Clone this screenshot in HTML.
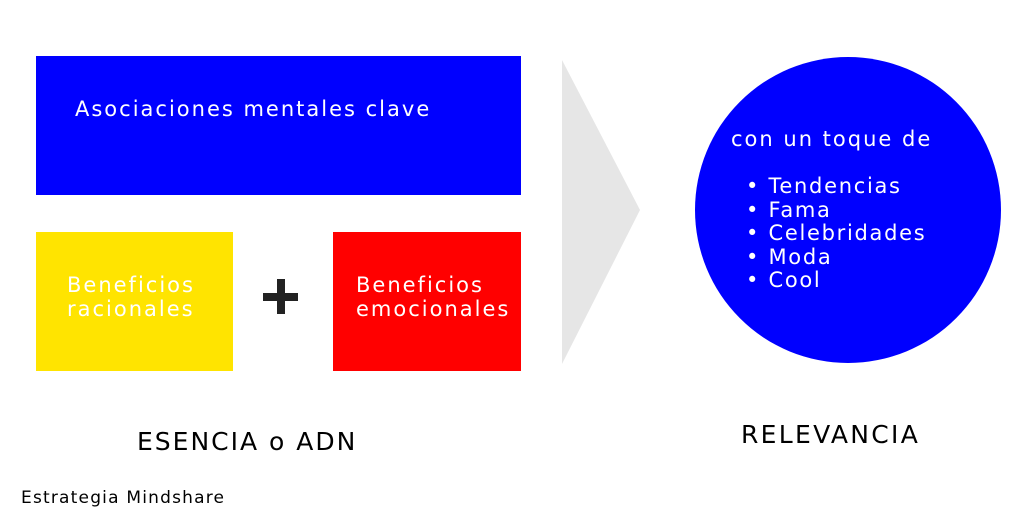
<!DOCTYPE html>
<html><head><meta charset="utf-8"><style>
body{margin:0;width:1024px;height:528px;background:#fff;position:relative;overflow:hidden;font-family:"DejaVu Sans","Liberation Sans",sans-serif;}
.a{position:absolute;white-space:nowrap}
.w{color:#fff;font-size:21px;line-height:24px;letter-spacing:2px}
</style></head><body>
<div class="a" style="left:36px;top:56px;width:485px;height:139px;background:#0000ff"></div>
<div class="a w" style="left:75px;top:97px">Asociaciones mentales clave</div>
<div class="a" style="left:36px;top:232px;width:197px;height:139px;background:#ffe400"></div>
<div class="a w" style="left:67px;top:273px">Beneficios<br>racionales</div>
<div class="a" style="left:333px;top:232px;width:188px;height:139px;background:#ff0000"></div>
<div class="a w" style="left:356px;top:273px">Beneficios<br>emocionales</div>
<div class="a" style="left:263px;top:293px;width:35px;height:8px;background:#222"></div>
<div class="a" style="left:277px;top:279px;width:8px;height:35px;background:#222"></div>
<svg class="a" style="left:0;top:0" width="1024" height="528"><polygon points="562,60 640,210 562,364" fill="#e6e6e6"/><circle cx="848" cy="210" r="153" fill="#0000ff"/></svg>
<div class="a w" style="left:731px;top:127px">con un toque de</div>
<div class="a w" style="left:746px;top:175px;line-height:23.5px;letter-spacing:1.7px">•&nbsp;Tendencias<br>•&nbsp;Fama<br>•&nbsp;Celebridades<br>•&nbsp;Moda<br>•&nbsp;Cool</div>
<div class="a" style="left:137px;top:427px;font-size:25px;color:#000;letter-spacing:2px">ESENCIA o ADN</div>
<div class="a" style="left:741px;top:420px;font-size:25px;color:#000;letter-spacing:2.3px">RELEVANCIA</div>
<div class="a" style="left:21px;top:488px;font-size:17px;color:#000;letter-spacing:1.2px">Estrategia Mindshare</div>
</body></html>
